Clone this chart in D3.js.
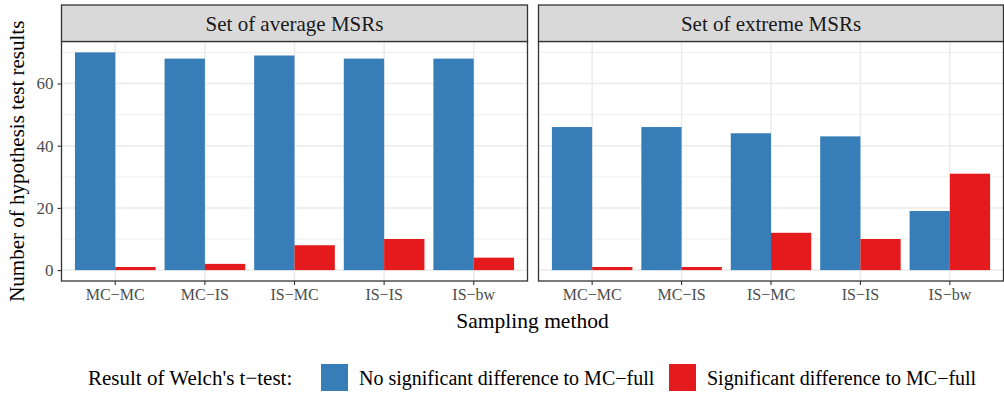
<!DOCTYPE html>
<html>
<head>
<meta charset="utf-8">
<script src="https://cdn.jsdelivr.net/npm/d3@7"></script>
<style>
  body { margin: 0; background: #fff; }
  svg text { font-family: "Liberation Serif", "DejaVu Serif", serif; }
</style>
</head>
<body>
<svg id="chart" width="1004" height="393"></svg>
<script>
// data
const methods = ["MC\u2212MC", "MC\u2212IS", "IS\u2212MC", "IS\u2212IS", "IS\u2212bw"];
const panels = ["Set of average MSRs", "Set of extreme MSRs"];
const results = ["No significant difference to MC\u2212full", "Significant difference to MC\u2212full"];
const averageNoSig = [70, 68, 69, 68, 68];
const averageSig = [1, 2, 8, 10, 4];
const extremeNoSig = [46, 46, 44, 43, 19];
const extremeSig = [1, 1, 12, 10, 31];
const yTicks = [0, 20, 40, 60];
const yMinor = [10, 30, 50, 70];

const panelData = [
  {title: panels[0], values: [averageNoSig, averageSig]},
  {title: panels[1], values: [extremeNoSig, extremeSig]}
];

const svg = d3.select("#chart");
const colors = d3.scaleOrdinal().domain(results).range(["#377EB8", "#E41A1C"]);

const panelX = [[61.5, 527.5], [538.5, 1003.5]];
const plotTop = 41.5, plotBottom = 281, stripTop = 5;

const y = d3.scaleLinear().domain([-3.5, 73.5]).range([plotBottom, plotTop]);

panelData.forEach(function(p, i) {
  const [x0, x1] = panelX[i];
  const x = d3.scaleBand().domain(methods).range([x0, x1])
      .paddingInner(0.1).paddingOuter(0.15);
  const xd = d3.scaleBand().domain(results).range([0, x.bandwidth()]);

  const g = svg.append("g");

  // panel background
  g.append("rect").attr("x", x0).attr("y", plotTop).attr("width", x1 - x0).attr("height", plotBottom - plotTop)
      .attr("fill", "#fff");

  // grid
  g.selectAll(".minor").data(yMinor).enter().append("line")
      .attr("x1", x0).attr("x2", x1)
      .attr("y1", d => y(d)).attr("y2", d => y(d))
      .attr("stroke", "#EBEBEB").attr("stroke-width", 0.8);
  g.selectAll(".major").data(yTicks).enter().append("line")
      .attr("x1", x0).attr("x2", x1)
      .attr("y1", d => y(d)).attr("y2", d => y(d))
      .attr("stroke", "#EBEBEB").attr("stroke-width", 1.5);
  g.selectAll(".vgrid").data(methods).enter().append("line")
      .attr("x1", d => x(d) + x.bandwidth() / 2).attr("x2", d => x(d) + x.bandwidth() / 2)
      .attr("y1", plotTop).attr("y2", plotBottom)
      .attr("stroke", "#EBEBEB").attr("stroke-width", 1.5);

  // bars
  results.forEach(function(r, k) {
    g.selectAll(".bar" + k).data(p.values[k]).enter().append("rect")
        .attr("x", (d, j) => x(methods[j]) + xd(r))
        .attr("width", xd.bandwidth())
        .attr("y", d => y(d))
        .attr("height", d => y(0) - y(d))
        .attr("fill", colors(r));
  });

  // border
  g.append("rect").attr("x", x0).attr("y", plotTop).attr("width", x1 - x0).attr("height", plotBottom - plotTop)
      .attr("fill", "none").attr("stroke", "#333333").attr("stroke-width", 1.3);

  // strip
  g.append("rect").attr("x", x0).attr("y", stripTop).attr("width", x1 - x0).attr("height", plotTop - stripTop)
      .attr("fill", "#D9D9D9").attr("stroke", "#333333").attr("stroke-width", 1.3);
  g.append("text").attr("x", (x0 + x1) / 2).attr("y", (stripTop + plotTop) / 2).attr("dy", "0.35em")
      .attr("text-anchor", "middle").attr("font-size", 21).attr("fill", "#1A1A1A")
      .text(p.title);

  // x axis
  const xAxis = g.append("g").attr("transform", "translate(0," + plotBottom + ")")
      .call(d3.axisBottom(x).tickSize(4).tickPadding(4));
  xAxis.select(".domain").remove();
  xAxis.selectAll(".tick line").attr("stroke", "#333333").attr("stroke-width", 1.1);
  xAxis.selectAll(".tick text").attr("font-size", 16).attr("fill", "#4D4D4D")
      .attr("font-family", "Liberation Serif, serif");

  if (i === 0) {
    const yAxis = g.append("g").attr("transform", "translate(" + x0 + ",0)")
        .call(d3.axisLeft(y).tickValues(yTicks).tickSize(4).tickPadding(4));
    yAxis.select(".domain").remove();
    yAxis.selectAll(".tick line").attr("stroke", "#333333").attr("stroke-width", 1.1);
    yAxis.selectAll(".tick text").attr("font-size", 17).attr("fill", "#4D4D4D")
        .attr("font-family", "Liberation Serif, serif");
  }
});

// axis titles
svg.append("text").attr("x", (panelX[0][0] + panelX[1][1]) / 2).attr("y", 328)
    .attr("text-anchor", "middle").attr("font-size", 21.5).attr("fill", "#000")
    .text("Sampling method");
svg.append("text").attr("transform", "translate(24," + (plotTop + plotBottom) / 2 + ") rotate(-90)")
    .attr("text-anchor", "middle").attr("font-size", 21).attr("fill", "#000")
    .text("Number of hypothesis test results");

// legend
const legend = svg.append("g");
legend.append("text").attr("x", 88).attr("y", 385).attr("font-size", 21).text("Result of Welch's t\u2212test:");
const legendKeyX = [321, 669];
results.forEach(function(r, k) {
  legend.append("rect").attr("x", legendKeyX[k]).attr("y", 364).attr("width", 27).attr("height", 27)
      .attr("fill", colors(r));
  legend.append("text").attr("x", legendKeyX[k] + 38).attr("y", 385).attr("font-size", 20).text(r);
});
</script>
</body>
</html>
